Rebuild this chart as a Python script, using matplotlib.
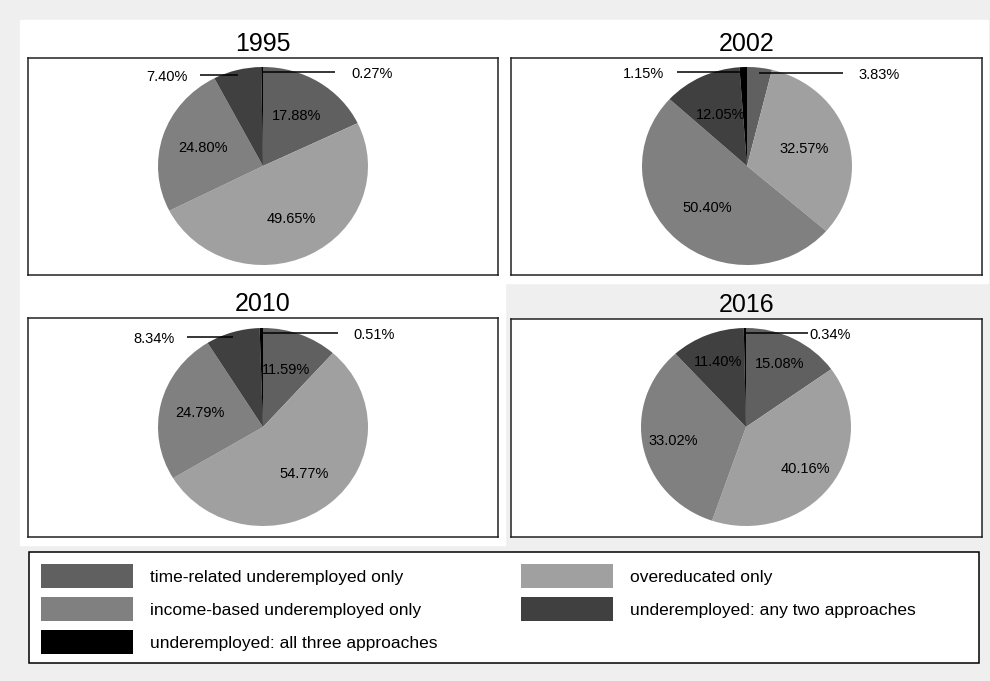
import matplotlib
matplotlib.use('Agg')
from matplotlib import pyplot as plt
from matplotlib.patches import Rectangle, Patch
import numpy as np

plt.rcParams['font.family'] = ['Liberation Sans', 'DejaVu Sans']

# data (percent shares, clockwise from 12 o'clock)
years = ['1995', '2002', '2010', '2016']
categories = ['time-related underemployed only', 'overeducated only',
              'income-based underemployed only', 'underemployed: any two approaches',
              'underemployed: all three approaches']
time_related = [17.88, 3.83, 11.59, 15.08]
overeducated = [49.65, 32.57, 54.77, 40.16]
income_based = [24.80, 50.40, 24.79, 33.02]
any_two = [7.40, 12.05, 8.34, 11.40]
all_three = [0.27, 1.15, 0.51, 0.34]

colors = ['#606060', '#a0a0a0', '#808080', '#404040', '#000000']

# small slices get a label outside with a leader line: slice index -> end x of the line
outside = [{3: -0.60, 4: 0.69}, {4: -0.67, 0: 0.91}, {3: -0.72, 4: 0.71}, {4: 0.59}]
text_gap = [0.15, 0.15, 0.15, 0.01]
label_r = [0.6, 0.57, 0.62, 0.71]

# axes boxes in pixels (left, top, right, bottom)
W, H = 990, 681
boxes = [(28, 58, 498, 275), (511, 58, 982, 275), (28, 318, 498, 537), (511, 319, 982, 537)]
centers = [(263, 166), (747, 166), (263, 427), (746, 427)]
rx, ry = 105, 99

fig = plt.figure(figsize=(W / 100, H / 100), dpi=100, facecolor='#efefef')
# white panel backgrounds
fig.patches.append(Rectangle((20 / W, 1 - 545 / H), 485 / W, 525 / H,
                             transform=fig.transFigure, color='white', zorder=-5))
fig.patches.append(Rectangle((505 / W, 1 - 283 / H), 483 / W, 263 / H,
                             transform=fig.transFigure, color='white', zorder=-5))


def draw_pie(i):
    l, t, r, b = boxes[i]
    ax = fig.add_axes([l / W, 1 - b / H, (r - l) / W, (b - t) / H])
    vals = [time_related[i], overeducated[i], income_based[i], any_two[i], all_three[i]]
    ax.pie(vals, colors=colors, startangle=90, counterclock=False,
           wedgeprops=dict(linewidth=0))
    ax.set_aspect('auto')
    cx, cy = centers[i]
    ax.set_xlim((l - cx) / rx, (r - cx) / rx)
    ax.set_ylim((cy - b) / ry, (cy - t) / ry)

    cum = np.cumsum([0] + vals)
    for k, v in enumerate(vals):
        mid = np.deg2rad((cum[k] + v / 2) / 100 * 360)
        x, y = np.sin(mid), np.cos(mid)
        lab = f'{v:.2f}%'
        if k in outside[i]:
            xe = outside[i][k]
            yl = y - 0.05
            ax.plot([x * 0.97, xe], [yl, yl], color='black', lw=1.1, solid_capstyle='butt')
            if xe < x:
                ax.text(xe - 0.12, yl - 0.02, lab, ha='right', va='center', fontsize=10.5)
            else:
                ax.text(xe + text_gap[i], yl - 0.02, lab, ha='left', va='center', fontsize=10.5)
        else:
            ax.text(label_r[i] * x, label_r[i] * y, lab, ha='center', va='center', fontsize=10.5)

    ax.set_xticks([])
    ax.set_yticks([])
    ax.set_frame_on(True)
    for s in ax.spines.values():
        s.set_visible(True)
        s.set_linewidth(1.1)
        s.set_color('#222222')
    ax.patch.set_facecolor('white')
    ax.set_title(years[i], fontsize=18, pad=5)


for i in range(4):
    draw_pie(i)

# legend box
fig.patches.append(Rectangle((29 / W, 1 - 663 / H), 950 / W, 111 / H, transform=fig.transFigure,
                             facecolor='white', edgecolor='black', linewidth=1.1, zorder=-1))
# legend, filled column-wise
order = [0, 2, 4, 1, 3]
handles = [Patch(facecolor=colors[k], edgecolor='none', label=categories[k]) for k in order]
leg = fig.legend(handles=handles, ncol=2, loc='upper left',
                 bbox_to_anchor=(29 / W, 1 - 552 / H), borderaxespad=0,
                 fontsize=12.5, handlelength=5.3, handleheight=1.74, handletextpad=0.98,
                 labelspacing=0.52, borderpad=0.7, frameon=False, columnspacing=4.8)

fig.savefig('out.png', dpi=100, facecolor=fig.get_facecolor())
